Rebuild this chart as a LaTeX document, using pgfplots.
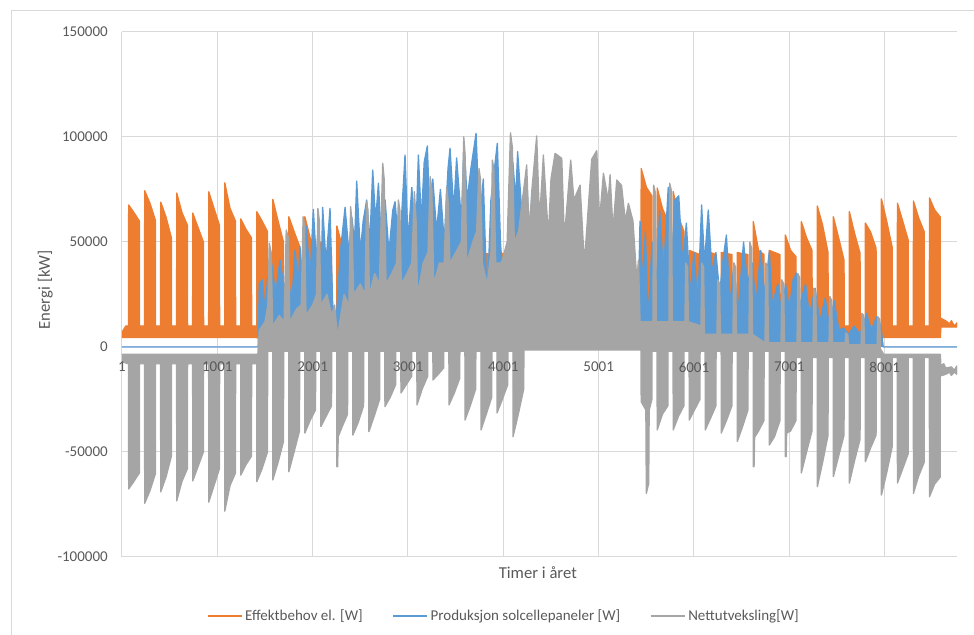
\documentclass[border=0pt]{standalone}
\usepackage{fontspec}
\setmainfont{Carlito}
\usepackage{pgfplots}
\usepackage{pgfplotstable}
\pgfplotsset{compat=1.18}
\definecolor{cOr}{HTML}{ED7D31}
\definecolor{cBl}{HTML}{5B9BD5}
\definecolor{cGr}{HTML}{A5A5A5}
\definecolor{cGrid}{HTML}{D9D9D9}
\definecolor{cTxt}{HTML}{595959}

% Effektbehov el.: upper envelope, then lower envelope (reversed) -> closed area
\pgfplotstableread{
x y
0 7000
40 10000
69 10000
70 67600
125 64000
182 60000
184 10000
237 10000
238 74400
293 68500
350 60400
352 10000
405 10000
406 69000
461 62000
518 52000
520 10000
573 10000
574 73300
629 64000
686 58000
688 10000
741 10000
742 63800
797 57000
854 50000
856 10000
909 10000
910 73900
965 66000
1022 58000
1024 10000
1077 10000
1078 78200
1133 66000
1190 60000
1192 10000
1245 10000
1246 61000
1301 56000
1358 52000
1360 10000
1413 10000
1414 64400
1469 60000
1526 55000
1528 10000
1581 10000
1582 70300
1637 60000
1694 50000
1696 10000
1749 10000
1750 62000
1805 55000
1862 48000
1864 10000
1917 10000
1918 62000
1973 52000
2030 46000
2032 9000
2085 9000
2086 50000
2141 46000
2198 44000
2200 9000
2253 9000
2254 57600
2309 48000
2366 44000
2368 9000
2421 9000
2422 46000
2477 45000
2534 44000
2536 9000
2589 9000
2590 45000
2645 44500
2702 44000
2704 9000
2757 9000
2758 45000
2813 44500
2870 44000
2872 9000
2925 9000
2926 45000
2981 44500
3038 44000
3040 9000
3093 9000
3094 45000
3149 44500
3206 44000
3208 9000
3261 9000
3262 45000
3317 44500
3374 44000
3376 9000
3429 9000
3430 45000
3485 44500
3542 44000
3544 9000
3597 9000
3598 45000
3653 44500
3710 44000
3712 9000
3765 9000
3766 45000
3821 44500
3878 44000
3880 9000
3933 9000
3934 45000
3989 44500
4046 44000
4048 9000
4101 9000
4102 45000
4157 44500
4214 44000
4216 8000
5445 8000
5446 85000
5501 76000
5558 72000
5560 10000
5613 10000
5614 75700
5669 66000
5726 60000
5728 10000
5781 10000
5782 74000
5837 62000
5894 55000
5896 9000
5949 9000
5950 46000
6005 45000
6062 44000
6064 9000
6117 9000
6118 46000
6173 45000
6230 44000
6232 9000
6285 9000
6286 45000
6341 44500
6398 44000
6400 9000
6453 9000
6454 45000
6509 44500
6566 44000
6568 9000
6621 9000
6622 59700
6677 46000
6734 44000
6736 9000
6789 9000
6790 46000
6845 45000
6902 44000
6904 9000
6957 9000
6958 53300
7013 46000
7070 43000
7072 10000
7125 10000
7126 59700
7181 52000
7238 46000
7240 10000
7293 10000
7294 67100
7349 58000
7406 45000
7408 10000
7461 10000
7462 62000
7517 52000
7574 41400
7576 10000
7629 10000
7630 64400
7685 54000
7742 44700
7744 10000
7797 10000
7798 59000
7853 54700
7910 47000
7912 10000
7965 10000
7966 70500
8021 60000
8078 47700
8080 10000
8133 10000
8134 68500
8189 60000
8246 51000
8248 10000
8301 10000
8302 69500
8357 61400
8414 55000
8416 10000
8469 10000
8470 71000
8525 65200
8582 62000
8584 13800
8640 12500
8680 11000
8700 12500
8730 10000
8759 11500
8759 9500
8590 9500
8584 4500
7800 4500
7000 3500
5446 3000
5430 1500
4240 1500
4220 3000
2000 3000
1400 4500
0 4500
}\ordata

% Produksjon solcellepaneler: upper envelope (area down to zero)
\pgfplotstableread{
x y
0 0
1428 0
1440 30000
1470 32000
1500 18000
1530 33500
1570 39800
1610 25000
1658 41400
1700 28000
1740 35000
1780 20000
1815 46200
1850 30000
1867 47800
1890 35000
1937 57300
1970 30000
2007 65500
2040 40000
2060 61000
2090 35000
2105 66500
2140 40000
2182 66000
2210 20000
2250 15000
2290 45000
2340 66500
2380 45000
2410 62000
2440 50000
2462 79000
2500 45000
2530 60000
2567 70000
2600 50000
2630 84300
2660 60000
2690 78000
2720 50000
2760 70000
2800 45000
2840 65000
2864 69200
2900 50000
2930 60000
2969 91400
3000 50000
3040 76000
3080 50000
3109 91400
3140 60000
3170 88000
3203 95700
3230 60000
3260 80000
3300 55000
3340 75000
3380 50000
3420 85000
3441 94600
3480 65000
3510 90000
3560 60000
3588 98000
3620 70000
3660 85000
3714 101700
3750 60000
3790 80000
3830 20000
3870 70000
3937 97000
3970 50000
4010 22000
4060 50000
4100 88000
4130 70000
4150 93000
4200 60000
4250 75000
4300 30000
5420 30000
5434 60000
5460 30000
5490 55000
5520 12000
5560 50000
5600 25000
5640 65000
5680 35000
5730 76000
5770 45000
5800 70000
5840 72000
5880 40000
5920 59000
5960 25000
6000 45000
6040 20000
6080 67600
6110 40000
6150 65200
6190 35000
6230 45000
6270 25000
6300 40000
6340 53300
6380 20000
6420 40000
6460 15000
6520 50000
6560 30000
6610 40000
6650 20000
6700 46000
6740 25000
6790 45400
6820 20000
6880 30000
6920 15000
6960 30000
7000 18000
7040 32000
7078 35200
7110 20000
7170 30000
7210 15000
7270 28000
7320 12000
7376 23300
7420 10000
7470 22000
7520 8000
7569 9000
7620 6000
7680 10000
7740 6000
7812 16000
7860 8000
7917 14400
7960 10000
7985 0
8759 0
}\bldata

% Nettutveksling: upper envelope
\pgfplotstableread{
x y
0 -3500
1425 -3500
1440 8000
1500 12000
1530 20000
1545 49400
1565 45000
1580 10000
1650 15000
1700 12000
1723 55700
1745 52000
1760 12000
1830 18000
1880 20000
1900 62000
1915 58000
1930 15000
2000 20000
2040 25000
2055 66000
2070 60000
2085 20000
2150 25000
2200 15000
2230 20000
2260 5000
2330 25000
2380 20000
2398 66800
2412 60000
2430 25000
2500 30000
2550 25000
2565 69200
2580 65000
2595 25000
2650 35000
2700 30000
2735 87500
2750 80000
2770 30000
2830 35000
2880 40000
2899 70000
2915 65000
2930 30000
2990 35000
3040 40000
3067 74000
3085 60000
3100 25000
3160 40000
3210 45000
3233 81100
3250 75000
3270 30000
3330 40000
3380 40000
3405 76000
3420 70000
3440 40000
3500 45000
3560 50000
3585 100100
3600 90000
3615 40000
3680 50000
3720 55000
3745 85000
3760 80000
3780 40000
3830 30000
3870 45000
3885 89000
3900 85000
3920 40000
3980 40000
4040 50000
4075 102000
4095 95000
4115 50000
4160 55000
4200 70000
4245 86700
4270 55000
4300 75000
4350 100500
4380 60000
4420 91400
4473 52500
4500 80000
4543 92200
4613 89800
4640 52000
4707 89000
4740 70000
4805 77100
4850 39800
4927 89400
4980 93500
5010 60500
5050 82700
5100 70000
5120 82000
5150 55700
5190 79500
5240 77000
5280 60000
5312 68400
5360 60000
5400 32000
5418 41400
5434 12000
5569 12000
5577 77100
5597 73000
5605 12000
5737 12000
5745 78000
5765 74000
5773 12000
5905 12000
5913 40000
5933 38000
5941 12000
6073 10000
6081 40000
6101 38000
6109 6000
6241 6000
6249 32000
6269 30000
6277 6000
6409 6000
6417 40000
6437 38000
6445 6000
6577 6000
6585 50000
6605 47000
6613 6000
6745 2000
6753 40000
6773 38000
6781 2000
6913 2000
6921 32000
6941 30000
6949 2000
7081 2000
7089 35000
7109 33000
7117 2000
7249 2000
7257 28000
7277 26000
7285 2000
7417 2000
7425 24000
7445 22000
7453 2000
7585 2000
7593 6700
7613 6000
7621 1000
7753 1000
7761 16000
7781 15000
7789 1000
7921 1000
7929 14400
7949 13000
7957 -1000
7990 -3500
8584 -3500
8590 -8800
8620 -8000
8640 -10000
8700 -9500
8730 -11000
8759 -9000
}\grhi

% Nettutveksling: lower envelope
\pgfplotstableread{
x y
0 -7000
69 -8000
70 -67600
125 -64000
182 -60000
184 -8000
237 -8000
238 -74400
293 -68500
350 -60400
352 -8000
405 -8000
406 -69000
461 -62000
518 -52000
520 -8000
573 -8000
574 -73300
629 -64000
686 -58000
688 -8000
741 -8000
742 -63800
797 -57000
854 -50000
856 -8000
909 -8000
910 -73900
965 -66000
1022 -58000
1024 -8000
1077 -8000
1078 -78200
1133 -66000
1190 -60000
1192 -8000
1245 -8000
1246 -61000
1301 -56000
1358 -52000
1360 -8000
1413 -8000
1414 -64100
1469 -58000
1526 -50000
1528 -2000
1581 -2000
1582 -63300
1637 -55000
1694 -45000
1696 -2000
1749 -2000
1750 -59400
1805 -50000
1862 -40000
1864 -2000
1917 -2000
1918 -41000
1973 -35000
2030 -30000
2032 -2000
2085 -2000
2086 -37900
2141 -33000
2198 -28000
2200 -2000
2253 -2000
2254 -57000
2262 -57000
2268 -42700
2309 -38000
2366 -32000
2368 -2000
2421 -2000
2422 -41900
2477 -36000
2534 -28000
2536 -2000
2589 -2000
2590 -40300
2645 -33000
2702 -25000
2704 -2000
2757 -2000
2758 -28400
2813 -24000
2870 -18000
2872 -2000
2925 -2000
2926 -21900
2981 -18000
3038 -14000
3040 -2000
3093 -2000
3094 -27600
3149 -20000
3206 -14000
3208 -2000
3261 -2000
3262 -15700
3317 -13000
3374 -10000
3376 -2000
3429 -2000
3430 -27600
3485 -22000
3542 -15000
3544 -2000
3597 -2000
3598 -34800
3653 -28000
3710 -20000
3712 -2000
3765 -2000
3766 -39500
3821 -32000
3878 -24000
3880 -2000
3933 -2000
3934 -31400
3989 -25000
4046 -18000
4048 -2000
4101 -2000
4102 -42700
4157 -32000
4214 -20000
4216 -1400
5445 -1400
5446 -26000
5495 -30000
5500 -69700
5525 -65000
5530 -30000
5558 -25000
5560 -2000
5613 -2000
5614 -39500
5669 -32000
5726 -28000
5728 -2000
5781 -2000
5782 -39500
5837 -33000
5894 -28000
5896 -2000
5949 -2000
5950 -34800
6005 -30000
6062 -25000
6064 -2000
6117 -2000
6118 -39500
6173 -34000
6230 -28000
6232 -2000
6285 -2000
6286 -41000
6341 -35000
6398 -28000
6400 -2000
6453 -2000
6454 -45000
6509 -38000
6566 -30000
6568 -2000
6621 -2000
6622 -57000
6630 -57000
6636 -43000
6677 -40000
6734 -35000
6736 -2000
6789 -2000
6790 -46700
6845 -42700
6902 -35000
6904 -2000
6957 -2000
6958 -52200
6966 -52200
6972 -41000
7013 -40000
7070 -35000
7072 -5000
7125 -5000
7126 -60000
7181 -50000
7238 -40000
7240 -5000
7293 -5000
7294 -66500
7349 -55000
7406 -42000
7408 -5000
7461 -5000
7462 -61700
7517 -52000
7574 -42000
7576 -5000
7629 -5000
7630 -64800
7685 -54000
7742 -44000
7744 -5000
7797 -5000
7798 -54600
7853 -48000
7910 -42000
7912 -5000
7965 -5000
7966 -70500
8021 -60000
8078 -47700
8080 -5000
8133 -5000
8134 -64800
8189 -58000
8246 -51000
8248 -5000
8301 -5000
8302 -69700
8357 -61400
8414 -55000
8416 -5000
8469 -5000
8470 -71300
8525 -65200
8582 -62000
8584 -13800
8640 -13000
8680 -12000
8700 -13500
8730 -12000
8759 -13000
}\grlo

\pgfplotstablesort[sort key=x, sort cmp={float >}]{\grloR}{\grlo}
\pgfplotstablevertcat{\grpoly}{\grhi}
\pgfplotstablevertcat{\grpoly}{\grloR}

\pgfplotsset{
  commonax/.style={
    at={(91.5pt,58.5pt)}, anchor=south west,
    width=626.25pt, height=393.75pt, scale only axis,
    xmin=0, xmax=8759, ymin=-100000, ymax=150000,
    scaled x ticks=false, scaled y ticks=false,
    axis line style={draw=none},
    major tick length=0pt,
    ticklabel style={font=\fontsize{11.25pt}{13pt}\selectfont, text=cTxt},
  }
}

\begin{document}
\begin{tikzpicture}
\path[use as bounding box] (0,0) rectangle (730.5pt,476.25pt);
\draw[cGrid, line width=0.75pt] (8.25pt,-2pt) -- (8.25pt,468pt) -- (733pt,468pt);
\begin{axis}[
  commonax,
  xtick={0,1000,2000,3000,4000,5000,6000,7000,8000},
  xticklabels={},
  ytick={-100000,-50000,0,50000,100000,150000},
  yticklabels={-100000,-50000,0,50000,100000,150000},
  grid=major,
  grid style={cGrid, line width=0.75pt},
  yticklabel style={anchor=east, inner sep=0pt, xshift=-10.5pt},
  xlabel={Timer i året},
  ylabel={Energi [kW]},
  label style={font=\fontsize{12.5pt}{15pt}\selectfont, text=cTxt},
  xlabel style={at={(axis description cs:0.498,-0.0305)}, anchor=center},
  ylabel style={at={(axis description cs:-0.092,0.509)}, anchor=center, rotate=0},
  legend style={at={(0.4575,-0.1124)}, anchor=center, draw=none, fill=none,
    font=\fontsize{11.25pt}{13pt}\selectfont, text=cTxt,
    legend columns=3,
    /tikz/every even column/.append style={column sep=20pt},
    nodes={inner sep=2pt}},
  legend image code/.code={\draw[#1] (0pt,0pt) -- (25.5pt,0pt);},
]
\addplot[forget plot, fill=cOr, draw=cOr, line width=1pt, line join=round] table[x=x,y=y] {\ordata};
\addplot[forget plot, fill=cBl, draw=cBl, line width=1pt, line join=round] table[x=x,y=y] {\bldata};
\addplot[forget plot, fill=cGr, draw=cGr, line width=1pt, line join=round] table[x=x,y=y] {\grpoly};
\addlegendimage{cOr, line width=1.5pt}
\addlegendentry{Effektbehov el. [W]}
\addlegendimage{cBl, line width=1.5pt}
\addlegendentry{Produksjon solcellepaneler [W]}
\addlegendimage{cGr, line width=1.5pt}
\addlegendentry{Nettutveksling[W]}
\end{axis}
% category labels drawn on top of the areas, at the zero line
\begin{axis}[
  commonax,
  xtick={0,1000,2000,3000,4000,5000,6000,7000,8000},
  xticklabels={1,1001,2001,3001,4001,5001,6001,7001,8001},
  ytick=\empty,
  xticklabel style={anchor=center, inner sep=0pt, yshift=142.5pt},
]
\end{axis}
\end{tikzpicture}
\end{document}
